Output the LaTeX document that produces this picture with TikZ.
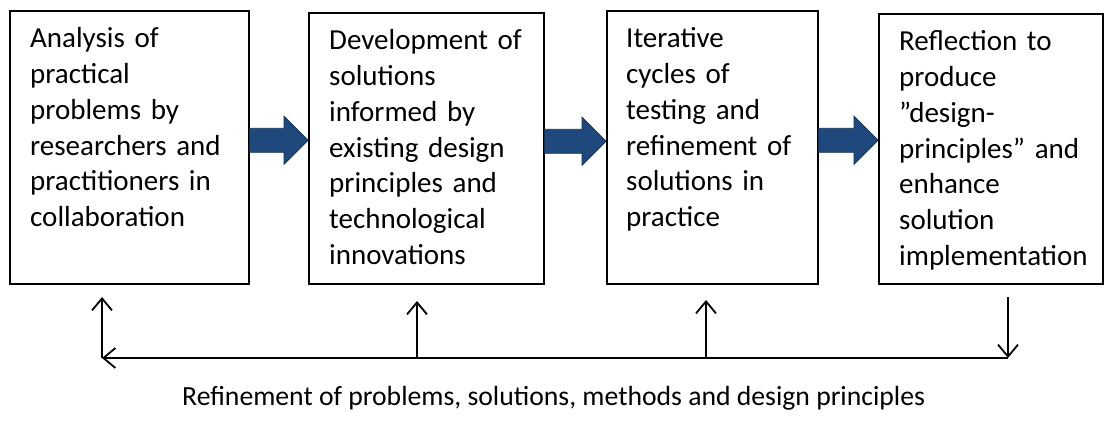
\documentclass[tikz,border=0pt]{standalone}
\usepackage{fontspec}
\setmainfont{Carlito}
\usetikzlibrary{arrows.meta,calc,positioning}
\definecolor{flowblue}{RGB}{31,73,125}
\definecolor{flowedge}{RGB}{20,48,84}
\begin{document}
\begin{tikzpicture}[x=1pt,y=1pt,
  stage/.style={draw,line width=1.6pt,anchor=north west,inner sep=0pt},
  stagetext/.style={anchor=base west,inner sep=0pt,align=left,text width=215pt,
    font=\fontsize{29}{35.7}\selectfont},
  fb/.style={line width=1.8pt,-{Straight Barb[length=12pt,width=20pt,line width=1.8pt]}},
  bigarrow/.style={fill=flowblue,draw=flowedge,line width=0.8pt}]
\useasboundingbox (0,0) rectangle (1108,-430);

% The four stages
\node[stage,minimum width=239pt,minimum height=273pt] (analysis) at (9,-10) {};
\node[stage,minimum width=235pt,minimum height=271pt] (develop) at (308,-12) {};
\node[stage,minimum width=211pt,minimum height=273pt] (iterate) at (606,-10) {};
\node[stage,minimum width=224pt,minimum height=270pt] (reflect) at (878,-13) {};

\node[stagetext] (analysisT) at ($(analysis.north west)+(21,-38)$)
  {Analysis of\\practical\\problems by\\researchers and\\practitioners in\\collaboration};
\node[stagetext] (developT) at ($(develop.north west)+(21,-38)$)
  {Development of\\solutions\\informed by\\existing design\\principles and\\technological\\innovations};
\node[stagetext] (iterateT) at ($(iterate.north west)+(20,-38)$)
  {Iterative\\cycles of\\testing and\\refinement of\\solutions in\\practice};
\node[stagetext] (reflectT) at ($(reflect.north west)+(21,-38)$)
  {Reflection to\\produce\\”design-\\principles” and\\enhance\\solution\\implementation};

% Block arrows between the stages
\foreach \a/\b in {analysis/develop,develop/iterate,iterate/reflect}{
  \coordinate (s) at ($(\a.east)+(0,7)$);
  \coordinate (t) at (\b.west |- s);
  \draw[bigarrow] ($(s)+(0,12)$) -- ($(t)+(-24,12)$) -- ($(t)+(-24,24)$) -- (t)
    -- ($(t)+(-24,-24)$) -- ($(t)+(-24,-12)$) -- ($(s)+(0,-12)$) -- cycle;
}

% Feedback loop
\coordinate (fbL) at (102,-358);
\coordinate (fbR) at (1008,-358);
\coordinate (upA) at (102,-297);
\coordinate (upB) at (417,-301);
\coordinate (upC) at (706,-300);
\coordinate (downD) at (1008,-297);
\draw[fb] (fbR) -- (fbL);
\draw[fb] (fbL) -- (upA);
\draw[fb] (upB |- fbL) -- (upB);
\draw[fb] (upC |- fbL) -- (upC);
\draw[fb] (downD) -- (fbR);

\node[anchor=base west,inner sep=0pt,font=\fontsize{27.7}{33}\selectfont] (caption) at (182,-405)
  {Refinement of problems, solutions, methods and design principles};
\end{tikzpicture}
\end{document}
